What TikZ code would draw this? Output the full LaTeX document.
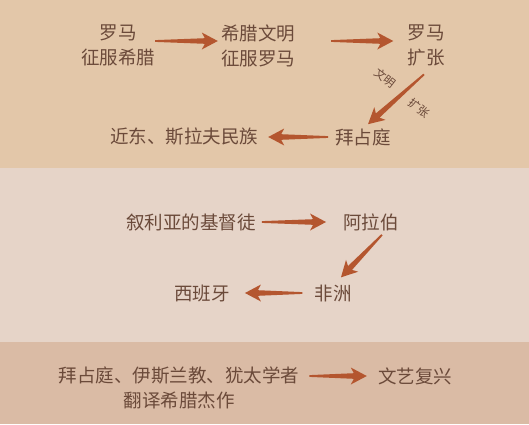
\documentclass[tikz,border=0pt]{standalone}
\usepackage{fontspec}
\setmainfont{Noto Sans CJK SC}
\usetikzlibrary{calc}
\definecolor{bandA}{HTML}{E3C7A9}
\definecolor{bandB}{HTML}{E6D4C8}
\definecolor{bandC}{HTML}{DABBA5}
\definecolor{txt}{HTML}{6B4A3A}
\definecolor{arrc}{HTML}{B4562F}
\tikzset{
  lbl/.style={inner sep=0pt, text=txt, font=\fontsize{18.5}{25}\selectfont, align=center},
  small/.style={inner sep=0pt, text=txt, font=\fontsize{11.5}{14}\selectfont, rotate=-38},
  arrfill/.style={fill=arrc}
}
% tapered arrow from #1 to #2
\newcommand\taperarrow[2]{%
  \coordinate (hb) at ($(#2)!13pt!(#1)$);
  \coordinate (hk) at ($(#2)!16pt!(#1)$);
  \fill[arrfill] ($(#1)!0.9pt!90:(#2)$) -- ($(hb)!2.8pt!-90:(#1)$) -- ($(hk)!8.5pt!-90:(#1)$) -- (#2)
     -- ($(hk)!8.5pt!90:(#1)$) -- ($(hb)!2.8pt!90:(#1)$) -- ($(#1)!0.9pt!-90:(#2)$) -- cycle;
}
\begin{document}
\begin{tikzpicture}[x=1pt,y=-1pt]
\useasboundingbox (0,0) rectangle (529,424);
\fill[bandA] (0,0) rectangle (529,168);
\fill[bandB] (0,168) rectangle (529,342);
\fill[bandC] (0,342) rectangle (529,424);
% top band
\node[lbl] (n1) at (118,45.5) {罗马\\征服希腊};
\node[lbl] (n2) at (258,45.5) {希腊文明\\征服罗马};
\node[lbl] (n3) at (426,45.5) {罗马\\扩张};
\node[lbl] (n4) at (363,137) {拜占庭};
\node[lbl] (n5) at (184,137) {近东、斯拉夫民族};
\node[small] (w1) at (385,78) {文明};
\node[small] (w2) at (419,108) {扩张};
\coordinate (a1s) at ($(n1.east)+(0,-4.5)$);
\coordinate (a1e) at ($(n2.west)+(-3,-4.5)$);
\coordinate (a2s) at ($(n2.east)+(36,-4.5)$);
\coordinate (a2e) at ($(n3.west)+(-14,-4.5)$);
\coordinate (a3s) at ($(n3.south)+(-2,8)$);
\coordinate (a3e) at ($(n4.north)+(5,-4)$);
\coordinate (a4s) at ($(n4.west)+(-7,0)$);
\coordinate (a4e) at ($(n5.east)+(10,0)$);
\taperarrow{a1s}{a1e}
\taperarrow{a2s}{a2e}
\taperarrow{a3s}{a3e}
\taperarrow{a4s}{a4e}
% middle band
\node[lbl] (m1) at (191,222) {叙利亚的基督徒};
\node[lbl] (m2) at (371,222) {阿拉伯};
\node[lbl] (m3) at (333,293) {非洲};
\node[lbl] (m4) at (202,293) {西班牙};
\coordinate (b1s) at ($(m1.east)+(6,0)$);
\coordinate (b1e) at ($(m2.west)+(-17,0)$);
\coordinate (b2s) at ($(m2.south)+(11,4)$);
\coordinate (b2e) at ($(m3.north)+(8,-7)$);
\coordinate (b3s) at ($(m3.west)+(-12,0)$);
\coordinate (b3e) at ($(m4.east)+(15,0)$);
\taperarrow{b1s}{b1e}
\taperarrow{b2s}{b2e}
\taperarrow{b3s}{b3e}
% bottom band
\node[lbl] (c1) at (179,388) {拜占庭、伊斯兰教、犹太学者\\翻译希腊杰作};
\node[lbl] (c2) at (415,376) {文艺复兴};
\coordinate (c1s) at ($(c1.east)+(10,-12)$);
\coordinate (c1e) at ($(c2.west)+(-11,0)$);
\taperarrow{c1s}{c1e}
\end{tikzpicture}
\end{document}
